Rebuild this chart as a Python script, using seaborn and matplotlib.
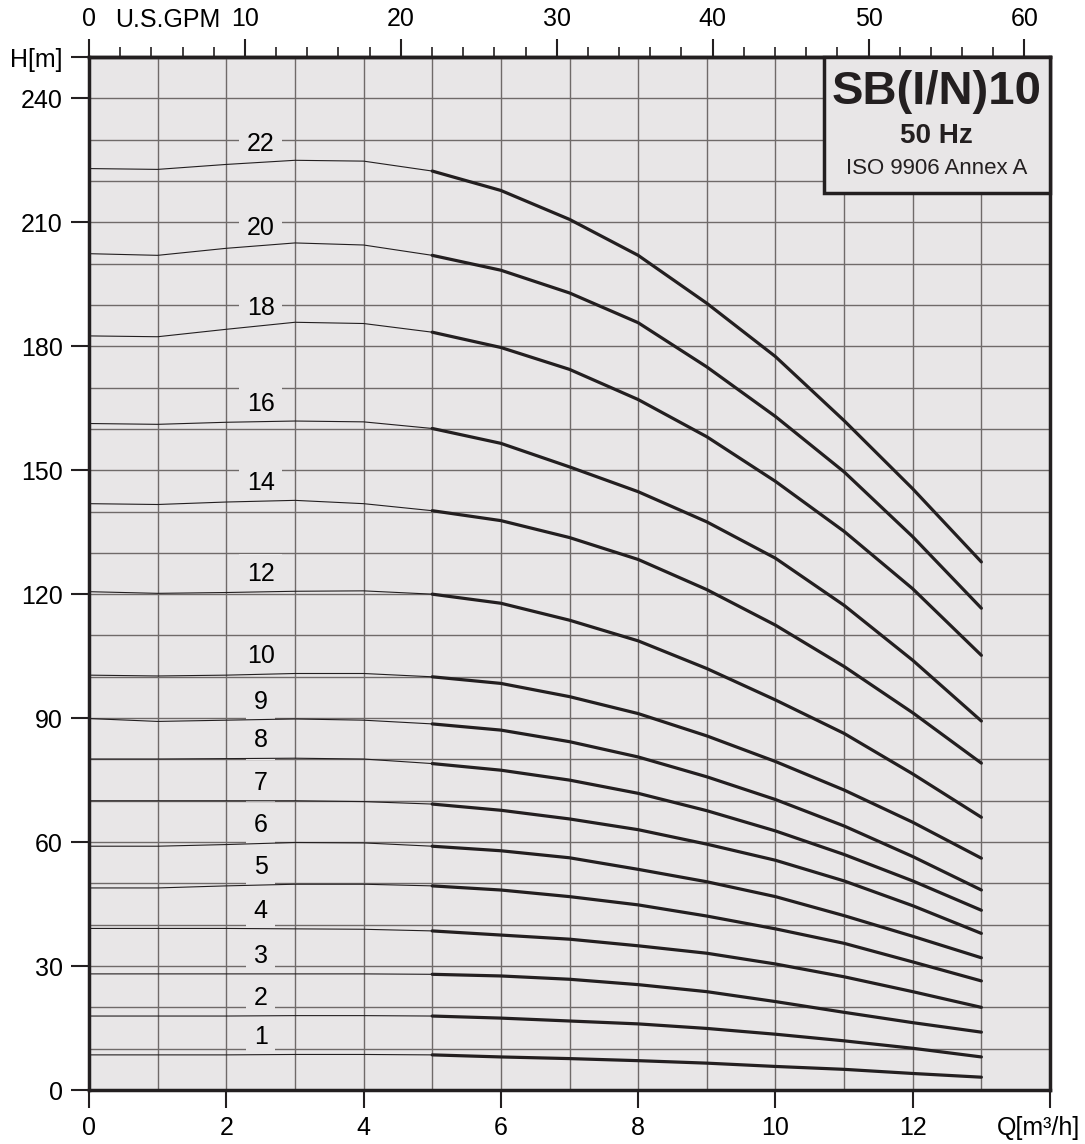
import numpy as np
import pandas as pd
import matplotlib
matplotlib.use("Agg")
import matplotlib.pyplot as plt
import matplotlib.transforms as mtransforms
from matplotlib.patches import Rectangle
import seaborn as sns

# flow points Q [m3/h]
q = [0, 1, 2, 3, 4, 5, 6, 7, 8, 9, 10, 11, 12, 13]

# head H [m] for each number of stages, read at the flow points above
head_1 = [8.5, 8.5, 8.5, 8.6, 8.6, 8.5, 8.0, 7.6, 7.1, 6.5, 5.7, 5.0, 4.0, 3.1]
head_2 = [17.9, 17.9, 17.9, 18.0, 18.0, 17.9, 17.4, 16.7, 16.0, 14.9, 13.5, 11.9, 10.1, 8.0]
head_3 = [28.1, 28.1, 28.1, 28.1, 28.1, 28.0, 27.6, 26.8, 25.5, 23.8, 21.4, 18.8, 16.3, 14.0]
head_4 = [39.1, 39.1, 39.1, 39.0, 38.9, 38.5, 37.5, 36.5, 34.9, 33.1, 30.5, 27.4, 23.8, 20.0]
head_5 = [48.9, 48.9, 49.4, 49.8, 49.8, 49.4, 48.4, 46.8, 44.8, 42.1, 39.0, 35.5, 31.0, 26.4]
head_6 = [59.0, 59.0, 59.4, 59.9, 59.8, 59.0, 57.9, 56.2, 53.4, 50.4, 46.8, 42.2, 37.2, 32.0]
head_7 = [70.0, 70.0, 70.0, 70.0, 69.8, 69.2, 67.7, 65.6, 63.0, 59.5, 55.6, 50.6, 44.6, 37.9]
head_8 = [80.1, 80.1, 80.2, 80.3, 80.1, 79.0, 77.4, 75.0, 71.8, 67.6, 62.7, 57.0, 50.6, 43.5]
head_9 = [89.9, 89.2, 89.5, 89.8, 89.5, 88.6, 87.1, 84.3, 80.6, 75.8, 70.3, 63.9, 56.5, 48.4]
head_10 = [100.4, 100.2, 100.4, 100.8, 100.8, 100.0, 98.4, 95.2, 91.1, 85.7, 79.5, 72.6, 64.8, 56.1]
head_12 = [120.6, 120.2, 120.4, 120.7, 120.8, 120.0, 117.8, 113.7, 108.7, 102.0, 94.4, 86.3, 76.5, 66.0]
head_14 = [141.9, 141.7, 142.3, 142.7, 141.9, 140.2, 137.8, 133.7, 128.4, 121.1, 112.5, 102.5, 91.3, 79.1]
head_16 = [161.3, 161.1, 161.6, 161.9, 161.7, 160.1, 156.5, 150.8, 144.8, 137.5, 128.7, 117.3, 104.0, 89.3]
head_18 = [182.5, 182.3, 184.1, 185.8, 185.5, 183.4, 179.7, 174.4, 167.1, 158.1, 147.3, 135.2, 121.3, 105.2]
head_20 = [202.4, 202.0, 203.7, 205.0, 204.5, 202.0, 198.4, 192.9, 185.7, 175.0, 163.0, 149.6, 133.9, 116.6]
head_22 = [223.0, 222.8, 224.0, 225.0, 224.8, 222.4, 217.7, 210.7, 202.0, 190.4, 177.5, 162.0, 145.5, 127.8]

stages = [1, 2, 3, 4, 5, 6, 7, 8, 9, 10, 12, 14, 16, 18, 20, 22]
heads = [head_1, head_2, head_3, head_4, head_5, head_6, head_7, head_8,
         head_9, head_10, head_12, head_14, head_16, head_18, head_20, head_22]

x_ticks = [0, 2, 4, 6, 8, 10, 12, 14]
x_labels = ["0", "2", "4", "6", "8", "10", "12", "Q[m³/h]"]
y_ticks = [0, 30, 60, 90, 120, 150, 180, 210, 240, 250]
y_labels = ["0", "30", "60", "90", "120", "150", "180", "210", "240", "H[m]"]
gpm_ticks = [0, 10, 20, 30, 40, 50, 60]
GPM_PER_M3H = 4.4029

bg = "#e8e6e7"
ink = "#231f20"
grid_c = "#6f6a69"

sns.set_style("ticks")
plt.rcParams["font.family"] = ["Liberation Sans", "DejaVu Sans"]

fig = plt.figure(figsize=(10.85, 11.44), dpi=100)
ax = fig.add_axes([89 / 1085, 54 / 1144, 961 / 1085, 1033 / 1144])
ax.set_facecolor(bg)

# working range (5..13 m3/h) drawn thick, the rest thin
rows = []
for n, h in zip(stages, heads):
    for qq, hh in zip(q, h):
        rows.append({"stages": n, "Q": qq, "H": hh})
df = pd.DataFrame(rows)

for n in stages:
    d = df[df["stages"] == n]
    sns.lineplot(data=d[d["Q"] <= 5], x="Q", y="H", ax=ax, color=ink, lw=0.8,
                 estimator=None, sort=False, zorder=4)
    sns.lineplot(data=d[d["Q"] >= 5], x="Q", y="H", ax=ax, color=ink, lw=2.3,
                 estimator=None, sort=False, zorder=4)
    y_lab = np.interp(2.5, d["Q"], d["H"])
    ax.annotate(str(n), (2.5, y_lab), xytext=(0, 13), textcoords="offset points",
                ha="center", va="center", fontsize=18, color="black", zorder=3,
                bbox=dict(boxstyle="square,pad=0.3", fc=bg, ec="none"))

ax.set_xlim(0, 14)
ax.set_ylim(0, 250)
ax.set_xlabel("")
ax.set_ylabel("")

ax.set_xticks(x_ticks)
ax.set_xticklabels(x_labels)
ax.set_xticks(np.arange(0, 15, 1), minor=True)
ax.set_yticks(y_ticks)
ax.set_yticklabels(y_labels)
ax.set_yticks(np.arange(0, 251, 10), minor=True)
ax.grid(which="both", color=grid_c, lw=1.0)
ax.set_axisbelow(True)

ax.tick_params(which="major", direction="out", length=13, width=1.5, color=ink,
               labelsize=18, labelcolor="black", pad=6)
ax.tick_params(which="minor", length=0)

# shift the unit label a bit left so it stays in the figure
off = mtransforms.ScaledTranslation(-12 / 100, 0, fig.dpi_scale_trans)
xl = ax.get_xticklabels()[-1]
xl.set_transform(xl.get_transform() + off)

for s in ax.spines.values():
    s.set_visible(True)
    s.set_linewidth(2.5)
    s.set_color(ink)

# top axis in U.S. GPM
secax = ax.secondary_xaxis("top", functions=(lambda x: x * GPM_PER_M3H,
                                             lambda g: g / GPM_PER_M3H))
secax.set_xticks(gpm_ticks)
secax.set_xticklabels([str(t) for t in gpm_ticks])
secax.set_xticks(np.arange(0, 62, 2), minor=True)
secax.tick_params(which="major", direction="out", length=13, width=1.5, color=ink,
                  labelsize=18, labelcolor="black", pad=6)
secax.tick_params(which="minor", direction="out", length=7, width=1.2, color=ink)
secax.spines["top"].set_linewidth(2.5)
secax.spines["top"].set_color(ink)

trans = mtransforms.blended_transform_factory(ax.transData, ax.transAxes)
gpm_lbl = ax.text(1.14, 1.0, "U.S.GPM", ha="center", va="bottom",
                  fontsize=18, color="black")
gpm_lbl.set_transform(trans + mtransforms.ScaledTranslation(0, 25 / 100, fig.dpi_scale_trans))

# title box
ax.add_patch(Rectangle((0.765, 0.868), 0.235, 0.132, transform=ax.transAxes,
                       fc=bg, ec=ink, lw=2.5, zorder=6, clip_on=False))
ax.text(0.882, 0.966, "SB(I/N)10", transform=ax.transAxes, ha="center", va="center",
        fontsize=34, fontweight="bold", color=ink, zorder=7)
ax.text(0.882, 0.924, "50 Hz", transform=ax.transAxes, ha="center", va="center",
        fontsize=20, fontweight="bold", color=ink, zorder=7)
ax.text(0.882, 0.892, "ISO 9906 Annex A", transform=ax.transAxes, ha="center",
        va="center", fontsize=16, color=ink, zorder=7)

fig.savefig("out.png", dpi=100, facecolor="white")
